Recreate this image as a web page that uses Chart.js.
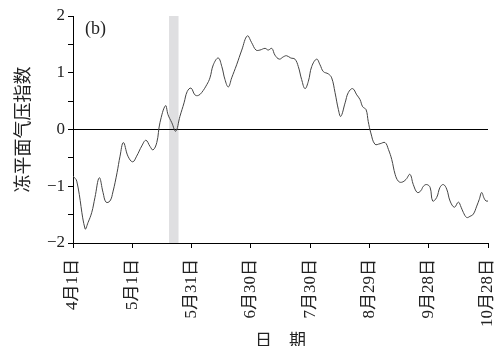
<!DOCTYPE html>
<html>
<head>
<meta charset="utf-8">
<script src="https://cdn.jsdelivr.net/npm/chart.js@4/dist/chart.umd.min.js"></script>
<style>
  html, body { margin: 0; padding: 0; background: #fff; }
  canvas { display: block; }
</style>
</head>
<body>
<canvas id="c" width="502" height="346"></canvas>
<script>
// Days since 1 April
const days = [0, 1.9, 6.1, 7.6, 9.5, 11.1, 13.3, 15.2, 16.7, 18.7, 20.2, 22.3, 23.8, 25.5, 27.8,
  30.2, 32.2, 34.8, 36.9, 39, 40.5, 42.4, 44, 46.8, 48.1, 50, 52, 54.1, 56.2, 57.8, 59.7,
  61.7, 63.4, 65.1, 67.7, 69.3, 71, 73.5, 75.3, 76.9, 78.6, 80.3, 82.8, 85.4, 88.2, 90.4,
  92.6, 94.6, 97.2, 98.8, 100.6, 102.2, 104.4, 106.4, 108.1, 110.2, 112.3, 114, 115.7,
  117.4, 119.1, 120.8, 123.3, 125, 126.7, 129.2, 130.9, 132.6, 134.3, 135.5, 137.7, 139.3,
  141.5, 143.6, 145.2, 146.6, 148.3, 149.4, 150.7, 152.8, 155.4, 157.9, 159.6, 161.3, 163,
  164.6, 166.3, 168.5, 170.5, 172.2, 174.2, 176, 177.3, 179, 180.7, 182, 184, 185.7, 187.4,
  189.1, 190.8, 193, 195, 196.4, 197.5, 199.2, 200.9, 202.6, 204.3, 205.6, 206.8, 208, 209, 210];

// Freezing-level pressure index
const indexValues = [-0.82, -0.91, -1.75, -1.64, -1.46, -1.2, -0.85, -1.11, -1.28, -1.26, -1.1,
  -0.76, -0.47, -0.23, -0.47, -0.57, -0.47, -0.29, -0.19, -0.3, -0.36, -0.23, 0.12, 0.42, 0.26,
  0.12, -0.03, 0.23, 0.47, 0.67, 0.73, 0.61, 0.6, 0.65, 0.79, 0.91, 1.14, 1.26, 1.11, 0.88, 0.75,
  0.91, 1.14, 1.4, 1.65, 1.53, 1.4, 1.4, 1.43, 1.4, 1.43, 1.31, 1.24, 1.28, 1.3, 1.26, 1.24, 1.11,
  0.88, 0.72, 0.85, 1.11, 1.24, 1.14, 1.02, 0.98, 0.91, 0.65, 0.35, 0.23, 0.47, 0.65, 0.72, 0.61,
  0.53, 0.4, 0.35, 0.14, -0.06, -0.26, -0.25, -0.23, -0.35, -0.53, -0.79, -0.91, -0.93, -0.88,
  -0.79, -0.97, -1.11, -1.08, -1.0, -0.97, -1.02, -1.26, -1.2, -1.02, -0.97, -1.05, -1.26, -1.37,
  -1.28, -1.37, -1.46, -1.55, -1.53, -1.49, -1.35, -1.23, -1.11, -1.21, -1.26, -1.26];

// Tick positions (days) and their labels
const tickDays = [0, 30, 60, 90, 120, 150, 180, 210];
const tickLabels = ['4月1日', '5月1日', '5月31日', '6月30日', '7月30日', '8月29日', '9月28日', '10月28日'];

// Highlighted period (days)
const bandStart = 48.6;
const bandEnd = 53.4;

const serif = '"Liberation Serif", "Noto Sans CJK SC", serif';

const bandPlugin = {
  id: 'band',
  beforeDraw(chart) {
    const {ctx, chartArea, scales} = chart;
    const x0 = scales.x.getPixelForValue(bandStart);
    const x1 = scales.x.getPixelForValue(bandEnd);
    ctx.save();
    ctx.fillStyle = '#dfdfe1';
    ctx.fillRect(x0, chartArea.top, x1 - x0, chartArea.bottom - chartArea.top);
    ctx.restore();
  },
  afterDraw(chart) {
    const {ctx, chartArea} = chart;
    ctx.save();
    ctx.fillStyle = '#222';
    ctx.font = '18px ' + serif;
    ctx.textBaseline = 'middle';
    ctx.fillText('(b)', chartArea.left + 12, chartArea.top + 13);
    ctx.restore();
  }
};

new Chart(document.getElementById('c'), {
  type: 'line',
  data: {
    datasets: [{
      data: days.map((d, i) => ({x: d, y: indexValues[i]})),
      borderColor: '#444',
      borderWidth: 1,
      pointRadius: 0,
      tension: 0.4,
      fill: false
    }]
  },
  options: {
    responsive: false,
    animation: false,
    devicePixelRatio: 1,
    layout: {padding: {top: 16, right: 14, left: 0, bottom: 0}},
    plugins: {legend: {display: false}, tooltip: {enabled: false}},
    scales: {
      x: {
        type: 'linear',
        min: 0,
        max: 210,
        afterBuildTicks(scale) { scale.ticks = tickDays.map(v => ({value: v})); },
        afterFit(scale) {
          scale.height = 103;
          scale.paddingLeft = 0;
          scale.paddingRight = 0;
        },
        border: {display: true, color: '#000', width: 1},
        grid: {drawOnChartArea: false, drawTicks: true, tickLength: 5, tickColor: '#000'},
        ticks: {
          autoSkip: false,
          maxRotation: 90,
          minRotation: 90,
          padding: 11,
          color: '#222',
          font: {family: serif, size: 17},
          callback(v) { const i = tickDays.indexOf(v); return i >= 0 ? tickLabels[i] : ''; }
        },
        title: {
          display: true,
          text: '日　期',
          color: '#222',
          font: {family: serif, size: 17},
          padding: {top: 0, bottom: -6}
        }
      },
      y: {
        min: -2,
        max: 2,
        afterFit(scale) { scale.width = 73; },
        border: {display: true, color: '#000', width: 1},
        grid: {
          drawOnChartArea: true,
          drawTicks: true,
          tickLength: 5,
          tickColor: '#000',
          color(ctx) { return ctx.tick && ctx.tick.value === 0 ? '#000' : 'rgba(0,0,0,0)'; }
        },
        ticks: {
          stepSize: 0.5,
          padding: 3,
          color: '#222',
          font: {family: serif, size: 17},
          callback(v) {
            if (!Number.isInteger(v)) return '';
            return v < 0 ? '\u2212' + Math.abs(v) : String(v);
          }
        },
        title: {
          display: true,
          text: '冻平面气压指数',
          color: '#222',
          font: {family: serif, size: 18},
          padding: {top: 13, bottom: 0}
        }
      }
    }
  },
  plugins: [bandPlugin]
});
</script>
</body>
</html>
